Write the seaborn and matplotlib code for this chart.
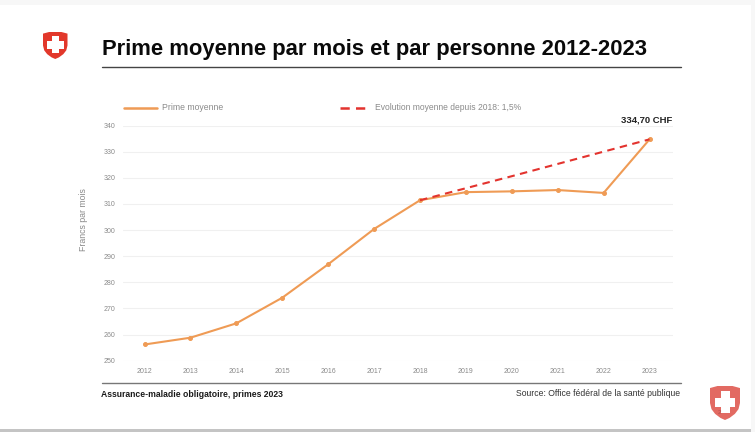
import matplotlib.pyplot as plt
import pandas as pd
import seaborn as sns
from matplotlib.lines import Line2D
from matplotlib.patches import Polygon, Rectangle

years = [2012, 2013, 2014, 2015, 2016, 2017, 2018, 2019, 2020, 2021, 2022, 2023]
prime = [256.2, 258.8, 264.3, 274.1, 286.9, 300.4, 311.4, 314.5, 314.8, 315.3, 314.2, 334.7]
trend_years = [2018, 2019, 2020, 2021, 2022, 2023]
trend = [311.4, 316.0, 320.6, 325.3, 330.0, 334.7]
y_ticks = [250, 260, 270, 280, 290, 300, 310, 320, 330, 340]

W, H = 755, 432
ORANGE = "#EF9B55"
RED = "#E3332E"
GREY = "#8a8a8a"

sns.set_theme(style="white")
plt.rcParams["font.family"] = ["Liberation Sans", "DejaVu Sans"]

fig = plt.figure(figsize=(W / 100, H / 100), dpi=100, facecolor="white")
ax = fig.add_axes([122.5 / W, 1 - 360.7 / H, 550 / W, 235.2 / H])


def fx(px):
    return px / W


def fy(py):
    return 1 - py / H


def hline(x0, x1, y, color, lw):
    fig.add_artist(Line2D([fx(x0), fx(x1)], [fy(y), fy(y)], color=color, lw=lw))


def shield(x0, y0, w, h, color):
    # outline in unit coordinates, cross drawn on top
    outline = [(0, .06), (.25, 0), (.75, 0), (1, .06), (1, .5), (.95, .68), (.83, .82), (.65, .94), (.5, 1),
               (.35, .94), (.17, .82), (.05, .68), (0, .5)]
    pts = [(fx(x0 + a * w), fy(y0 + b * h)) for a, b in outline]
    fig.add_artist(Polygon(pts, closed=True, transform=fig.transFigure, fc=color, ec="none"))
    for a, b, c, d in [(.16, .35, .68, .27), (.36, .15, .29, .63)]:
        fig.add_artist(Rectangle((fx(x0 + a * w), fy(y0 + (b + d) * h)), c * w / W, d * h / H,
                                 transform=fig.transFigure, fc="white", ec="none"))


df = pd.DataFrame({"annee": years, "prime": prime})
df_trend = pd.DataFrame({"annee": trend_years, "evolution": trend})

sns.lineplot(data=df, x="annee", y="prime", color=ORANGE, lw=1.5, marker="o", markersize=2.8,
             markeredgecolor=ORANGE, ax=ax, zorder=3)
sns.lineplot(data=df_trend, x="annee", y="evolution", color=RED, lw=1.5, ax=ax, zorder=4,
             linestyle=(0, (3.6, 2.6)))

ax.set_xlim(2011.52, 2023.5)
ax.set_ylim(250, 340)
ax.set_xticks(years)
ax.set_yticks(y_ticks)
ax.grid(axis="y", color="#f0f0f0", lw=0.8)
ax.set_axisbelow(True)
sns.despine(ax=ax, left=True, bottom=True, top=True, right=True)
ax.tick_params(axis="both", length=0, labelsize=5.0, labelcolor=GREY)
ax.tick_params(axis="x", pad=5.3)
ax.tick_params(axis="y", pad=5.2)
ax.set_xlabel("")
ax.set_ylabel("")

# page background bands
fig.add_artist(Rectangle((0, fy(5)), 1, 5 / H, transform=fig.transFigure, fc="#f7f7f7", ec="none"))
fig.add_artist(Rectangle((fx(751), 0), 4 / W, 1, transform=fig.transFigure, fc="#f7f7f7", ec="none"))
fig.add_artist(Rectangle((0, 0), 751 / W, 3 / H, transform=fig.transFigure, fc="#c4c4c4", ec="none"))

fig.text(fx(102), fy(46.5), "Prime moyenne par mois et par personne 2012-2023", fontsize=15.83,
         fontweight="bold", color="#0a0a0a", va="center_baseline")
hline(102, 681, 66.5, "#444444", 1.0)
hline(102, 681, 383, "#777777", 1.0)

fig.text(fx(101), fy(394.5), "Assurance-maladie obligatoire, primes 2023", fontsize=6.2,
         fontweight="bold", color="#1a1a1a", va="center")
fig.text(fx(680), fy(393), "Source: Office fédéral de la santé publique", fontsize=6.2,
         color="#333333", ha="right", va="center")

# legend
hline(124, 157, 108, ORANGE, 1.8)
fig.add_artist(Line2D([fx(340), fx(366)], [fy(108), fy(108)], color=RED, lw=1.8,
                      linestyle=(0, (3.7, 2.5))))
fig.text(fx(162), fy(107.5), "Prime moyenne", fontsize=6.2, color=GREY, va="center")
fig.text(fx(375), fy(107.5), "Evolution moyenne depuis 2018: 1,5%", fontsize=6.15, color=GREY, va="center")

fig.text(fx(672), fy(119.5), "334,70 CHF", fontsize=6.8, fontweight="bold", color="#222222",
         ha="right", va="center")
fig.text(fx(83.5), fy(219.5), "Francs par mois", fontsize=6.3, color=GREY, rotation=90,
         ha="center", va="center")

shield(43, 32, 24.5, 27, "#E2382B")
shield(710, 386, 30, 34, "#E26A62")
fig.text(fx(719.5), fy(413), "2", fontsize=4.5, color="#b05050", ha="center", va="center")

fig.savefig("out.png", dpi=100, facecolor="white")
